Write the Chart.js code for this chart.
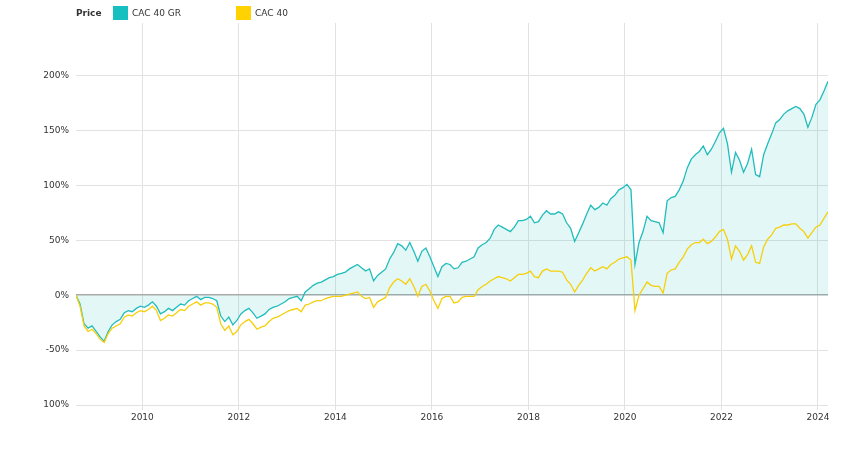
<!DOCTYPE html>
<html>
<head>
<meta charset="utf-8">
<script src="https://cdn.jsdelivr.net/npm/chart.js@4.4.1/dist/chart.umd.min.js"></script>
<style>
  body { margin: 0; background: #fff; }
  #wrap { position: relative; width: 860px; height: 450px; font-family: "DejaVu Sans", sans-serif; }
  .lg { position: absolute; font-size: 9px; color: #333; top: 8px; line-height: 11px; }
  .box { position: absolute; top: 6px; width: 15px; height: 14px; }
</style>
</head>
<body>
<div id="wrap">
  <canvas id="perfChart" width="860" height="450"></canvas>
  <span class="lg" style="left:76px;font-weight:bold;">Price</span>
  <span class="box" style="left:113px;background:#17c0c0;"></span>
  <span class="lg" style="left:132px;">CAC 40 GR</span>
  <span class="box" style="left:236px;background:#ffd200;"></span>
  <span class="lg" style="left:255px;">CAC 40</span>
</div>
<script>
// monthly readings, Aug 2008 .. Mar 2024
const startYear = 2008;
const startMonth = 8;
const seriesNames = ['CAC 40 GR', 'CAC 40'];

const cac40gr = [
    0, -8, -26, -30, -28,
    -33, -38, -42, -33, -27, -24, -22, -16, -14, -15, -12, -10,
    -11, -9, -6, -10, -17, -15, -12, -14, -11, -8, -9, -5,
    -3, -1, -4, -2, -2, -3, -5, -19, -24, -20, -27, -23,
    -17, -14, -12, -16, -21, -19, -17, -13, -11, -10, -8, -6,
    -3, -2, -1, -5, 3, 6, 9, 11, 12, 14, 16, 17,
    19, 20, 21, 24, 26, 28, 25, 22, 24, 13, 18, 21,
    24, 33, 39, 47, 45, 41, 48, 40, 31, 40, 43, 35,
    26, 17, 26, 29, 28, 24, 25, 30, 31, 33, 35, 43,
    46, 48, 52, 60, 64, 62, 60, 58, 62, 68, 68, 69,
    72, 66, 67, 73, 77, 74, 74, 76, 74, 66, 61, 49,
    57, 65, 74, 82, 78, 80, 84, 82, 88, 91, 96, 98,
    101, 96, 28, 48, 58, 72, 68, 67, 66, 57, 86, 89,
    90, 96, 104, 116, 124, 128, 131, 136, 128, 133, 140, 148,
    152, 138, 112, 130, 123, 112, 120, 133, 110, 108, 128, 138,
    147, 157, 160, 165, 168, 170, 172, 170, 165, 153, 162, 174,
    178, 186, 195
];

const cac40 = [
    0, -10, -28, -33, -31,
    -35, -40, -43, -35, -30, -28, -26, -20, -18, -19, -16, -14,
    -15, -13, -10, -14, -23, -21, -18, -19, -16, -13, -14, -10,
    -8, -6, -9, -7, -7, -8, -11, -26, -32, -28, -36, -33,
    -27, -24, -22, -26, -31, -29, -28, -24, -21, -20, -18, -16,
    -14, -13, -12, -15, -9, -8, -6, -5, -5, -3, -2, -1,
    -1, -1, 0, 1, 2, 3, -1, -3, -2, -11, -6, -4,
    -2, 7, 12, 15, 13, 10, 15, 8, -1, 8, 10, 4,
    -5, -12, -3, -1, -1, -7, -6, -2, -1, -1, -1, 5,
    8, 10, 13, 15, 17, 16, 15, 13, 16, 19, 19, 20,
    22, 17, 16, 22, 24, 22, 22, 22, 21, 14, 10, 3,
    9, 14, 20, 25, 22, 24, 26, 24, 28, 30, 33, 34,
    35, 32, -14, 0, 6, 12, 9, 8, 8, 2, 20, 23,
    24, 30, 35, 42, 46, 48, 48, 51, 47, 49, 53, 58,
    60, 51, 33, 45, 40, 32, 37, 45, 30, 29, 44, 51,
    55, 61, 62, 64, 64, 65, 65, 61, 58, 52, 57, 62,
    64, 70, 76
];

const yTicks = [-100, -50, 0, 50, 100, 150, 200];
const xTicks = [2010, 2012, 2014, 2016, 2018, 2020, 2022, 2024];

// decimal year at mid-month
const dates = cac40gr.map((v, i) => startYear + (startMonth - 1 + i + 0.5) / 12);
const toPoints = arr => arr.map((v, i) => ({ x: dates[i], y: v }));

const ctx = document.getElementById('perfChart').getContext('2d');
Chart.defaults.font.family = '"DejaVu Sans", sans-serif';
Chart.defaults.font.size = 9;
Chart.defaults.color = '#333';

new Chart(ctx, {
    type: 'line',
    data: {
        datasets: [{
            label: seriesNames[1],
            data: toPoints(cac40),
            borderColor: '#f6cf0a',
            borderWidth: 1.3,
            pointRadius: 0,
            fill: false,
            order: 0
        }, {
            label: seriesNames[0],
            data: toPoints(cac40gr),
            borderColor: '#21bcbc',
            backgroundColor: 'rgba(33,188,188,0.12)',
            borderWidth: 1.3,
            pointRadius: 0,
            fill: 'origin',
            order: 1
        }]
    },
    options: {
        responsive: false,
        animation: false,
        layout: { padding: { top: 23, right: 32, left: 0, bottom: 0 } },
        plugins: {
            legend: { display: false },
            tooltip: { enabled: false }
        },
        scales: {
            x: {
                type: 'linear',
                min: dates[0],
                max: dates[dates.length - 1],
                afterBuildTicks: axis => {
                    axis.ticks = xTicks.map(v => ({ value: v }));
                },
                afterFit: scale => { scale.height = 45; },
                ticks: {
                    autoSkip: false,
                    maxRotation: 0,
                    padding: 2,
                    callback: v => String(v)
                },
                grid: {
                    color: '#e2e2e2',
                    tickLength: 5
                },
                border: { display: false }
            },
            y: {
                min: -100,
                max: 248,
                afterBuildTicks: axis => {
                    axis.ticks = yTicks.map(v => ({ value: v }));
                },
                afterFit: scale => { scale.width = 76; },
                ticks: {
                    padding: 7,
                    callback: v => (v === -100 ? '100' : v) + '%'
                },
                grid: {
                    drawTicks: false,
                    color: c => c.tick && c.tick.value === 0 ? '#aaaaaa' : '#e2e2e2',
                    lineWidth: c => c.tick && c.tick.value === 0 ? 1.5 : 1
                },
                border: { display: false }
            }
        }
    }
});
</script>
</body>
</html>
